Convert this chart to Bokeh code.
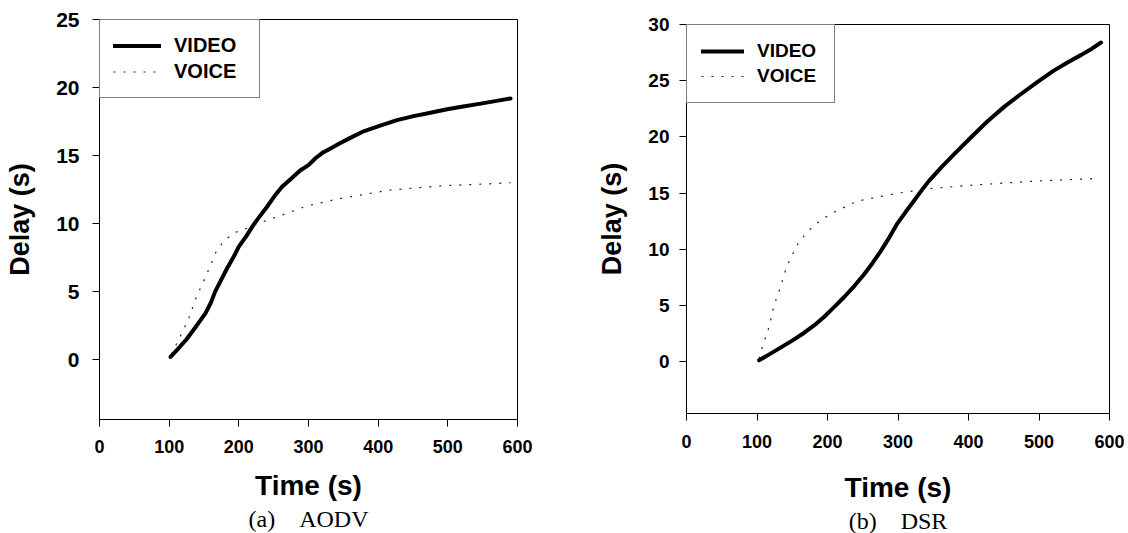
from bokeh.plotting import figure
from bokeh.layouts import row, column
from bokeh.models import Range1d, FixedTicker, Title, Legend, LegendItem
from bokeh.embed import file_html
from bokeh.resources import INLINE

# ---------------- data ----------------
x_ticks = [0, 100, 200, 300, 400, 500, 600]
y_ticks_a = [0, 5, 10, 15, 20, 25]
y_ticks_b = [0, 5, 10, 15, 20, 25, 30]

# (a) AODV
t_video_a = [102, 112, 125, 138, 152, 160, 166, 175, 183, 192, 200, 211, 221, 231, 240, 251, 262, 275, 288, 300, 310, 320, 329, 345, 360, 380, 403, 427, 451, 475, 499, 522, 545, 568, 590]
video_a = [0.2, 0.75, 1.5, 2.4, 3.4, 4.2, 5.0, 5.9, 6.7, 7.5, 8.3, 9.1, 9.9, 10.6, 11.2, 12.0, 12.7, 13.3, 13.9, 14.3, 14.8, 15.2, 15.45, 15.9, 16.3, 16.8, 17.2, 17.6, 17.9, 18.15, 18.4, 18.6, 18.8, 19.0, 19.2]
t_voice_a = [103, 115, 128, 139, 152, 168, 180, 195, 209, 238, 266, 298, 341, 415, 460, 500, 550, 590]
voice_a = [0.4, 1.6, 3.0, 4.6, 6.05, 8.0, 8.8, 9.35, 9.6, 10.2, 10.7, 11.3, 11.8, 12.45, 12.65, 12.8, 12.9, 13.0]

# (b) DSR
t_video_b = [103, 118, 134, 150, 167, 181, 195, 209, 224, 238, 252, 264, 276, 288, 299, 311, 323, 334, 344, 362, 380, 404, 427, 451, 474, 498, 521, 541, 560, 575, 588]
video_b = [0.15, 0.7, 1.3, 1.9, 2.6, 3.25, 4.0, 4.85, 5.8, 6.75, 7.8, 8.8, 9.9, 11.1, 12.3, 13.35, 14.35, 15.3, 16.1, 17.35, 18.5, 20.0, 21.4, 22.7, 23.8, 24.9, 25.9, 26.65, 27.3, 27.85, 28.4]
t_voice_b = [103, 108, 117, 124, 129, 134, 138, 143, 150, 157, 169, 182, 198, 212, 242, 271, 299, 344, 400, 450, 500, 578]
voice_b = [0.3, 1.4, 3.1, 5.0, 5.9, 6.8, 7.7, 8.6, 9.5, 10.4, 11.4, 12.2, 12.9, 13.4, 14.3, 14.65, 15.0, 15.4, 15.7, 15.9, 16.1, 16.3]

series_names = ["VIDEO", "VOICE"]
captions = ["(a)\u00a0\u00a0\u00a0\u00a0AODV", "(b)\u00a0\u00a0\u00a0\u00a0DSR"]

SANS = "Liberation Sans"
SERIF = "Liberation Serif"


def make_plot(tv, v, tc, c, yticks, ymin, ymax, caption, width, borders, ytick_fs, ystand, ylab_stand,
              xstand, xlab_stand, leg_fs, leg_pad, glyph_w, glyph_h, lab_w, lab_standoff):
    bl, br, bt, bb = borders
    p = figure(width=width, height=533, output_backend="svg", toolbar_location=None,
               x_range=Range1d(0, 600), y_range=Range1d(ymin, ymax),
               min_border_left=bl, min_border_right=br, min_border_top=bt, min_border_bottom=bb)
    p.background_fill_color = "white"
    p.border_fill_color = "white"
    p.outline_line_color = "black"
    p.outline_line_width = 1
    p.xgrid.visible = False
    p.ygrid.visible = False

    r1 = p.line(tv, v, line_color="black", line_width=4, line_join="round", line_cap="round")
    r2 = p.line(tc, c, line_color="#222222", line_width=1.2, line_dash="2 8")

    for ax in (p.xaxis[0], p.yaxis[0]):
        ax.axis_line_color = "black"
        ax.major_tick_line_color = "black"
        ax.major_tick_out = 7
        ax.major_tick_in = 0
        ax.minor_tick_line_color = None
        ax.major_label_text_font = SANS
        ax.major_label_text_font_style = "bold"
        ax.major_label_text_color = "black"
        ax.axis_label_text_font = SANS
        ax.axis_label_text_font_style = "bold"
        ax.axis_label_text_color = "black"

    p.xaxis[0].ticker = FixedTicker(ticks=x_ticks)
    p.xaxis[0].major_label_text_font_size = "18px"
    p.xaxis[0].major_label_standoff = xstand
    p.xaxis[0].axis_label = "Time (s)"
    p.xaxis[0].axis_label_text_font_size = "28px"
    p.xaxis[0].axis_label_standoff = xlab_stand

    p.yaxis[0].ticker = FixedTicker(ticks=yticks)
    p.yaxis[0].major_label_text_font_size = ytick_fs
    p.yaxis[0].major_label_standoff = ystand
    p.yaxis[0].axis_label = "Delay (s)"
    p.yaxis[0].axis_label_text_font_size = "27px"
    p.yaxis[0].axis_label_standoff = ylab_stand

    legend = Legend(items=[LegendItem(label=series_names[0], renderers=[r1]),
                           LegendItem(label=series_names[1], renderers=[r2])],
                    location="top_left", margin=0, padding=leg_pad, spacing=1,
                    border_line_color="black", border_line_width=1,
                    background_fill_color="white", background_fill_alpha=1,
                    label_text_font=SANS, label_text_font_style="bold",
                    label_text_font_size=leg_fs, label_text_color="black",
                    glyph_width=glyph_w, glyph_height=glyph_h, label_width=lab_w,
                    label_standoff=lab_standoff, label_height=glyph_h)
    p.add_layout(legend, "center")

    t = Title(text=caption, align="center", text_font=SERIF, text_font_style="normal",
              text_font_size="24px", text_color="black", standoff=0, offset=0)
    p.add_layout(t, "below")
    return p


pa = make_plot(t_video_a, video_a, t_voice_a, voice_a, y_ticks_a, -4.4, 25, captions[0], 560,
               (99, 43, 19, 114), "21px", 13, 18, 13, 14, "20px", 13, 48, 25, 72, 13)
pb = make_plot(t_video_b, video_b, t_voice_b, voice_b, y_ticks_b, -4.58, 30, captions[1], 568,
               (126, 19, 24, 120), "19px", 10, 18, 14, 21, "19px", 14, 43, 24, 63, 13)

layout = row(column(pa), column(pb))
open("out.html", "w").write(file_html(layout, INLINE))
